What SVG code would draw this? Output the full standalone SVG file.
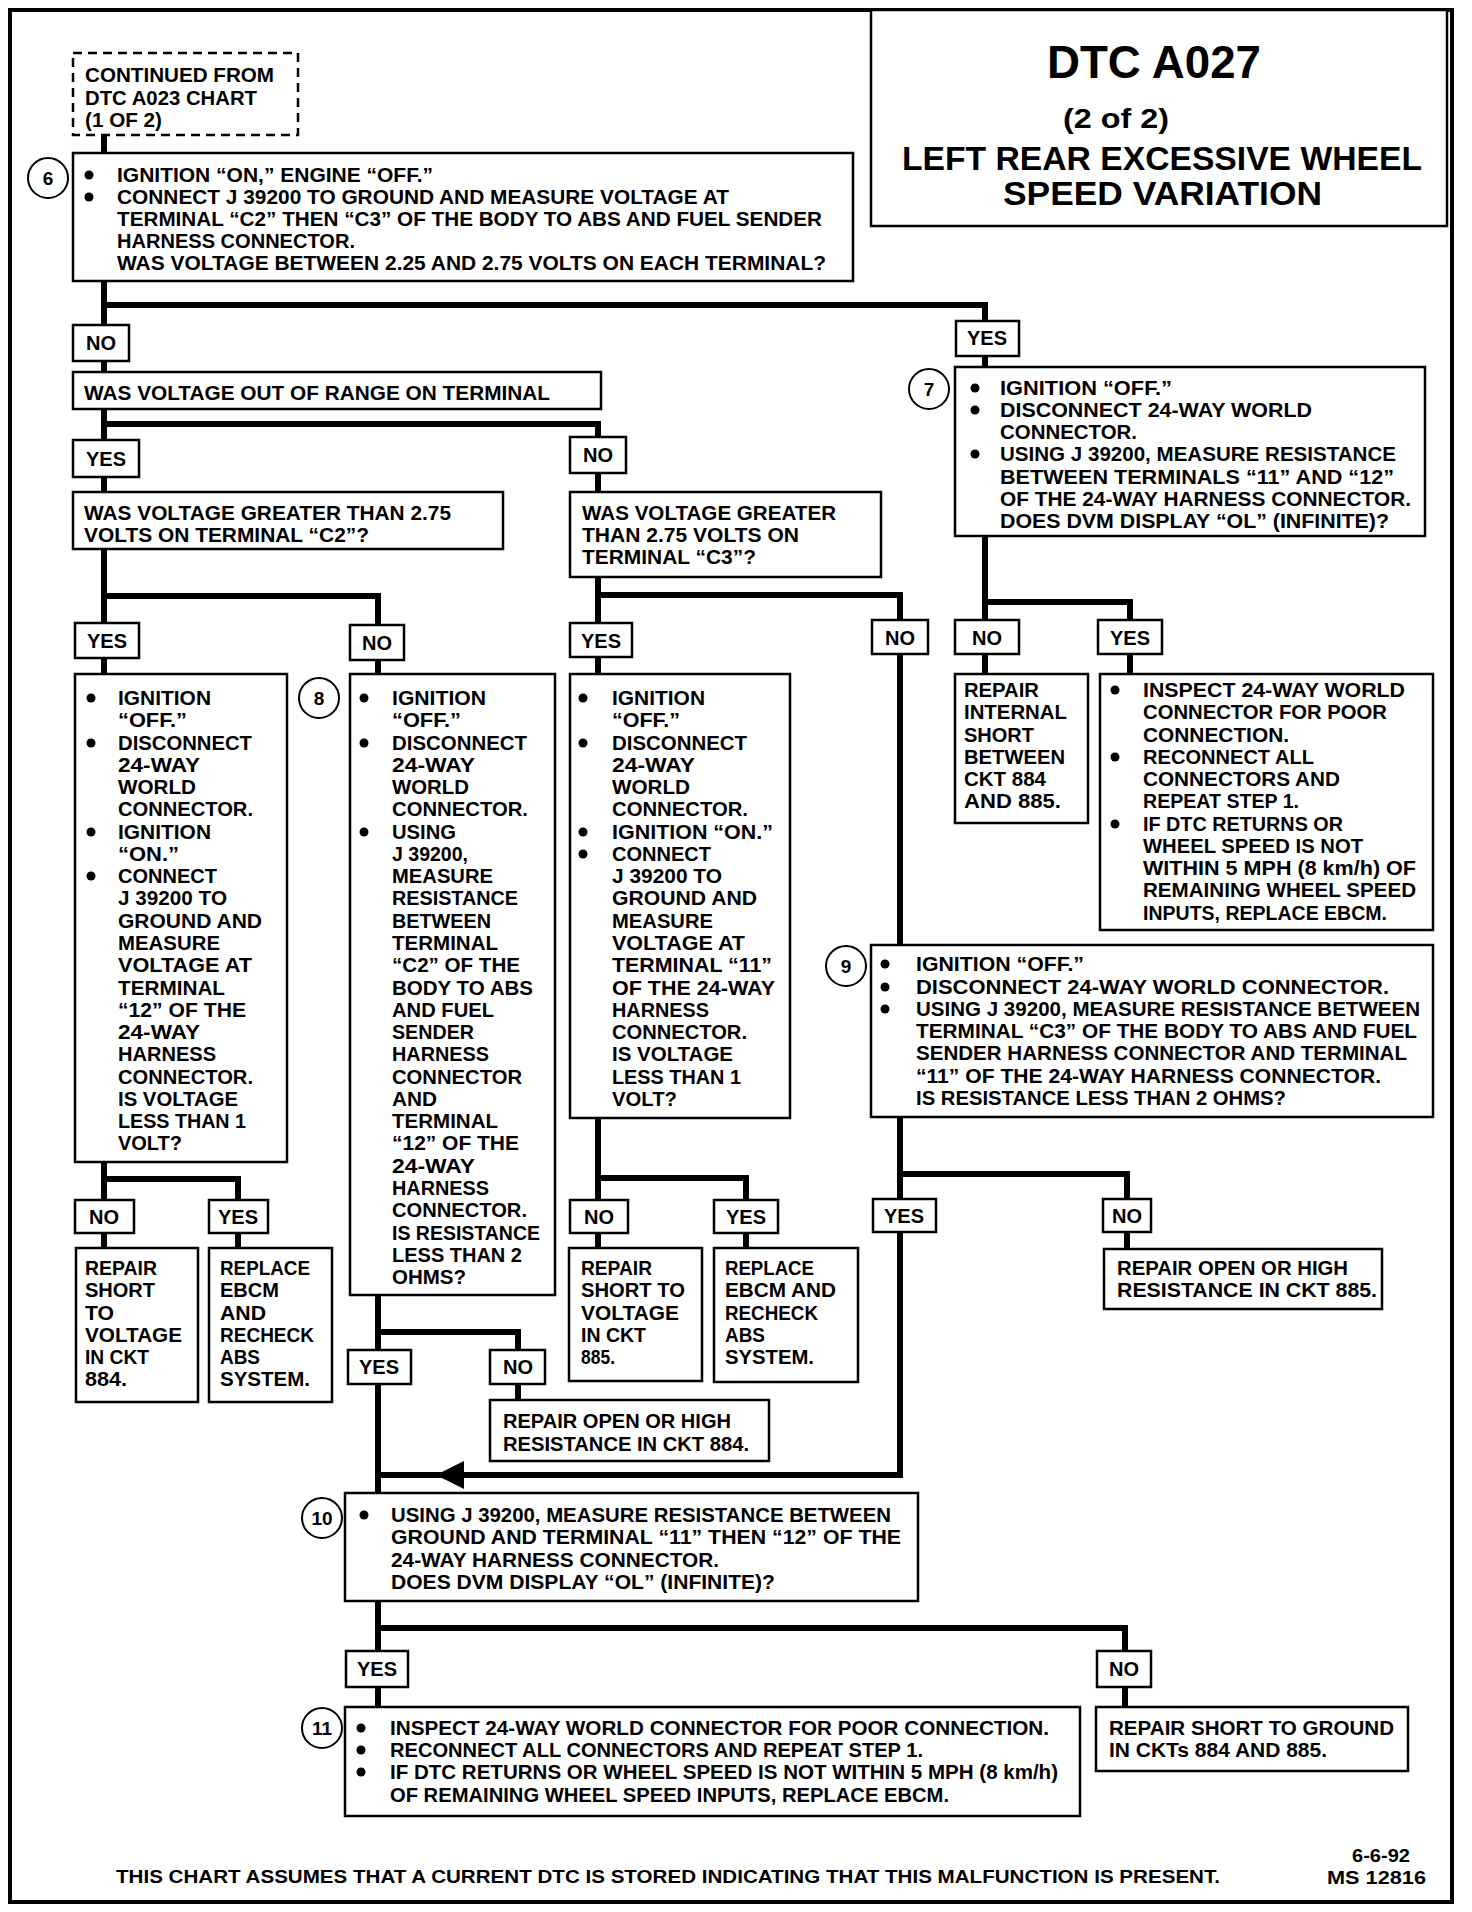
<svg xmlns="http://www.w3.org/2000/svg" width="1472" height="1912" viewBox="0 0 1472 1912">
<style>
.bg{fill:#fff}
.frame{fill:none;stroke:#000;stroke-width:4}
.box{fill:#fff;stroke:#000;stroke-width:2.5}
.dash{fill:#fff;stroke:#000;stroke-width:2.5;stroke-dasharray:9 6}
.conn{fill:none;stroke:#000;stroke-width:6;stroke-linejoin:miter;stroke-linecap:butt}
.t{font-family:"Liberation Sans",Arial,sans-serif;font-weight:bold;font-size:20px;fill:#000}
.lb{font-family:"Liberation Sans",Arial,sans-serif;font-weight:bold;font-size:20px;fill:#000;text-anchor:middle}
.num{font-family:"Liberation Sans",Arial,sans-serif;font-weight:bold;font-size:19px;fill:#000;text-anchor:middle}
.ring{fill:#fff;stroke:#000;stroke-width:2}
.dot{fill:#000}
</style>
<rect class="bg" x="0" y="0" width="1472" height="1912"/>
<rect class="frame" x="10" y="10" width="1442" height="1892"/>

<g id="title">
<rect class="box" x="871" y="10" width="576" height="216"/>
<text class="t" x="1047" y="78" style="font-size:46px" textLength="214" lengthAdjust="spacingAndGlyphs">DTC A027</text>
<text class="t" x="1063" y="128" style="font-size:27px" textLength="106" lengthAdjust="spacingAndGlyphs">(2 of 2)</text>
<text class="t" x="902" y="170" style="font-size:34px" textLength="520" lengthAdjust="spacingAndGlyphs">LEFT REAR EXCESSIVE WHEEL</text>
<text class="t" x="1003" y="205" style="font-size:34px" textLength="319" lengthAdjust="spacingAndGlyphs">SPEED VARIATION</text>
</g>

<g id="connectors">
<path class="conn" d="M104,134 V153"/>
<path class="conn" d="M104,281 V325 M104,305 H985 V321"/>
<path class="conn" d="M104,361 V372"/>
<path class="conn" d="M104,409 V440 M104,424 H598 V437"/>
<path class="conn" d="M104,477 V492"/>
<path class="conn" d="M598,473 V492"/>
<path class="conn" d="M104,549 V623 M104,596 H378 V625"/>
<path class="conn" d="M104,658 V674"/>
<path class="conn" d="M378,660 V674"/>
<path class="conn" d="M598,577 V623 M598,595 H900 V620"/>
<path class="conn" d="M598,657 V674"/>
<path class="conn" d="M900,654 V945"/>
<path class="conn" d="M985,356 V367"/>
<path class="conn" d="M985,536 V620 M985,602 H1130 V620"/>
<path class="conn" d="M985,654 V674"/>
<path class="conn" d="M1130,654 V674"/>
<path class="conn" d="M104,1162 V1200 M104,1179 H238 V1200"/>
<path class="conn" d="M104,1233 V1248"/>
<path class="conn" d="M238,1233 V1248"/>
<path class="conn" d="M598,1118 V1200 M598,1178 H746 V1200"/>
<path class="conn" d="M598,1233 V1248"/>
<path class="conn" d="M746,1233 V1248"/>
<path class="conn" d="M378,1295 V1350 M378,1332 H518 V1350"/>
<path class="conn" d="M518,1384 V1400"/>
<path class="conn" d="M378,1384 V1493"/>
<path class="conn" d="M900,1117 V1199 M900,1174 H1127 V1199"/>
<path class="conn" d="M1127,1232 V1249"/>
<path class="conn" d="M900,1232 V1475 H378"/>
<polygon points="436,1475 464,1461 464,1489" fill="#000"/>
<path class="conn" d="M378,1601 V1651 M378,1628 H1125 V1651"/>
<path class="conn" d="M378,1687 V1707"/>
<path class="conn" d="M1125,1687 V1707"/>
</g>

<g id="start">
<rect class="dash" x="73" y="53" width="225" height="82"/>
<text class="t" x="85" y="82" textLength="189" lengthAdjust="spacingAndGlyphs">CONTINUED FROM</text>
<text class="t" x="85" y="105" textLength="172" lengthAdjust="spacingAndGlyphs">DTC A023 CHART</text>
<text class="t" x="85" y="127" textLength="77" lengthAdjust="spacingAndGlyphs">(1 OF 2)</text>
</g>

<g id="step6">
<circle class="ring" cx="48" cy="178" r="20"/><text class="num" x="48" y="185">6</text>
<rect class="box" x="73" y="153" width="780" height="128"/>
<circle class="dot" cx="89" cy="175" r="4.5"/><circle class="dot" cx="89" cy="197" r="4.5"/>
<text class="t" x="117" y="182" textLength="316" lengthAdjust="spacingAndGlyphs">IGNITION “ON,” ENGINE “OFF.”</text>
<text class="t" x="117" y="204" textLength="612" lengthAdjust="spacingAndGlyphs">CONNECT J 39200 TO GROUND AND MEASURE VOLTAGE AT</text>
<text class="t" x="117" y="226" textLength="705" lengthAdjust="spacingAndGlyphs">TERMINAL “C2” THEN “C3” OF THE BODY TO ABS AND FUEL SENDER</text>
<text class="t" x="117" y="248" textLength="238" lengthAdjust="spacingAndGlyphs">HARNESS CONNECTOR.</text>
<text class="t" x="117" y="270" textLength="709" lengthAdjust="spacingAndGlyphs">WAS VOLTAGE BETWEEN 2.25 AND 2.75 VOLTS ON EACH TERMINAL?</text>
</g>

<g id="no6"><rect class="box" x="73" y="325" width="56" height="36"/><text class="lb" x="101" y="350">NO</text></g>
<g id="yes6"><rect class="box" x="956" y="321" width="63" height="35"/><text class="lb" x="987" y="345">YES</text></g>

<g id="q-out-of-range">
<rect class="box" x="73" y="372" width="528" height="37"/>
<text class="t" x="84" y="400" textLength="466" lengthAdjust="spacingAndGlyphs">WAS VOLTAGE OUT OF RANGE ON TERMINAL</text>
</g>

<g id="yes-range"><rect class="box" x="73" y="440" width="66" height="37"/><text class="lb" x="106" y="466">YES</text></g>
<g id="no-range"><rect class="box" x="570" y="437" width="56" height="36"/><text class="lb" x="598" y="462">NO</text></g>

<g id="q-c2">
<rect class="box" x="73" y="492" width="430" height="57"/>
<text class="t" x="84" y="520" textLength="367" lengthAdjust="spacingAndGlyphs">WAS VOLTAGE GREATER THAN 2.75</text>
<text class="t" x="84" y="542" textLength="285" lengthAdjust="spacingAndGlyphs">VOLTS ON TERMINAL “C2”?</text>
</g>

<g id="q-c3">
<rect class="box" x="570" y="492" width="311" height="85"/>
<text class="t" x="582" y="520" textLength="254" lengthAdjust="spacingAndGlyphs">WAS VOLTAGE GREATER</text>
<text class="t" x="582" y="542" textLength="217" lengthAdjust="spacingAndGlyphs">THAN 2.75 VOLTS ON</text>
<text class="t" x="582" y="564" textLength="174" lengthAdjust="spacingAndGlyphs">TERMINAL “C3”?</text>
</g>

<g id="step7">
<circle class="ring" cx="929" cy="389" r="20"/><text class="num" x="929" y="396">7</text>
<rect class="box" x="955" y="367" width="470" height="169"/>
<circle class="dot" cx="975" cy="388" r="4.5"/><circle class="dot" cx="975" cy="410" r="4.5"/><circle class="dot" cx="975" cy="454" r="4.5"/>
<text class="t" x="1000" y="395" textLength="172" lengthAdjust="spacingAndGlyphs">IGNITION “OFF.”</text>
<text class="t" x="1000" y="417" textLength="312" lengthAdjust="spacingAndGlyphs">DISCONNECT 24-WAY WORLD</text>
<text class="t" x="1000" y="439" textLength="137" lengthAdjust="spacingAndGlyphs">CONNECTOR.</text>
<text class="t" x="1000" y="461" textLength="396" lengthAdjust="spacingAndGlyphs">USING J 39200, MEASURE RESISTANCE</text>
<text class="t" x="1000" y="484" textLength="394" lengthAdjust="spacingAndGlyphs">BETWEEN TERMINALS “11” AND “12”</text>
<text class="t" x="1000" y="506" textLength="411" lengthAdjust="spacingAndGlyphs">OF THE 24-WAY HARNESS CONNECTOR.</text>
<text class="t" x="1000" y="528" textLength="389" lengthAdjust="spacingAndGlyphs">DOES DVM DISPLAY “OL” (INFINITE)?</text>
</g>

<g id="yes-c2"><rect class="box" x="75" y="623" width="64" height="35"/><text class="lb" x="107" y="648">YES</text></g>
<g id="no-c2"><rect class="box" x="350" y="625" width="54" height="35"/><text class="lb" x="377" y="650">NO</text></g>
<g id="yes-c3"><rect class="box" x="570" y="623" width="62" height="34"/><text class="lb" x="601" y="648">YES</text></g>
<g id="no-c3"><rect class="box" x="872" y="620" width="56" height="34"/><text class="lb" x="900" y="645">NO</text></g>
<g id="no7"><rect class="box" x="955" y="620" width="64" height="34"/><text class="lb" x="987" y="645">NO</text></g>
<g id="yes7"><rect class="box" x="1098" y="620" width="64" height="34"/><text class="lb" x="1130" y="645">YES</text></g>

<g id="check-c2-voltage">
<rect class="box" x="75" y="674" width="212" height="488"/>
<circle class="dot" cx="91" cy="698" r="4.5"/><circle class="dot" cx="91" cy="743" r="4.5"/><circle class="dot" cx="91" cy="832" r="4.5"/><circle class="dot" cx="91" cy="876" r="4.5"/>
<text class="t" x="118" y="705" textLength="93" lengthAdjust="spacingAndGlyphs">IGNITION</text>
<text class="t" x="118" y="727" textLength="69" lengthAdjust="spacingAndGlyphs">“OFF.”</text>
<text class="t" x="118" y="750" textLength="134" lengthAdjust="spacingAndGlyphs">DISCONNECT</text>
<text class="t" x="118" y="772" textLength="82" lengthAdjust="spacingAndGlyphs">24-WAY</text>
<text class="t" x="118" y="794" textLength="78" lengthAdjust="spacingAndGlyphs">WORLD</text>
<text class="t" x="118" y="816" textLength="135" lengthAdjust="spacingAndGlyphs">CONNECTOR.</text>
<text class="t" x="118" y="839" textLength="93" lengthAdjust="spacingAndGlyphs">IGNITION</text>
<text class="t" x="118" y="861" textLength="61" lengthAdjust="spacingAndGlyphs">“ON.”</text>
<text class="t" x="118" y="883" textLength="99" lengthAdjust="spacingAndGlyphs">CONNECT</text>
<text class="t" x="118" y="905" textLength="109" lengthAdjust="spacingAndGlyphs">J 39200 TO</text>
<text class="t" x="118" y="928" textLength="144" lengthAdjust="spacingAndGlyphs">GROUND AND</text>
<text class="t" x="118" y="950" textLength="102" lengthAdjust="spacingAndGlyphs">MEASURE</text>
<text class="t" x="118" y="972" textLength="134" lengthAdjust="spacingAndGlyphs">VOLTAGE AT</text>
<text class="t" x="118" y="995" textLength="107" lengthAdjust="spacingAndGlyphs">TERMINAL</text>
<text class="t" x="118" y="1017" textLength="128" lengthAdjust="spacingAndGlyphs">“12” OF THE</text>
<text class="t" x="118" y="1039" textLength="82" lengthAdjust="spacingAndGlyphs">24-WAY</text>
<text class="t" x="118" y="1061" textLength="98" lengthAdjust="spacingAndGlyphs">HARNESS</text>
<text class="t" x="118" y="1084" textLength="135" lengthAdjust="spacingAndGlyphs">CONNECTOR.</text>
<text class="t" x="118" y="1106" textLength="120" lengthAdjust="spacingAndGlyphs">IS VOLTAGE</text>
<text class="t" x="118" y="1128" textLength="128" lengthAdjust="spacingAndGlyphs">LESS THAN 1</text>
<text class="t" x="118" y="1150" textLength="64" lengthAdjust="spacingAndGlyphs">VOLT?</text>
</g>

<g id="step8">
<circle class="ring" cx="319" cy="698" r="20"/><text class="num" x="319" y="705">8</text>
<rect class="box" x="350" y="674" width="205" height="621"/>
<circle class="dot" cx="364" cy="698" r="4.5"/><circle class="dot" cx="364" cy="743" r="4.5"/><circle class="dot" cx="364" cy="832" r="4.5"/>
<text class="t" x="392" y="705" textLength="94" lengthAdjust="spacingAndGlyphs">IGNITION</text>
<text class="t" x="392" y="727" textLength="69" lengthAdjust="spacingAndGlyphs">“OFF.”</text>
<text class="t" x="392" y="750" textLength="135" lengthAdjust="spacingAndGlyphs">DISCONNECT</text>
<text class="t" x="392" y="772" textLength="83" lengthAdjust="spacingAndGlyphs">24-WAY</text>
<text class="t" x="392" y="794" textLength="77" lengthAdjust="spacingAndGlyphs">WORLD</text>
<text class="t" x="392" y="816" textLength="136" lengthAdjust="spacingAndGlyphs">CONNECTOR.</text>
<text class="t" x="392" y="839" textLength="64" lengthAdjust="spacingAndGlyphs">USING</text>
<text class="t" x="392" y="861" textLength="76" lengthAdjust="spacingAndGlyphs">J 39200,</text>
<text class="t" x="392" y="883" textLength="101" lengthAdjust="spacingAndGlyphs">MEASURE</text>
<text class="t" x="392" y="905" textLength="126" lengthAdjust="spacingAndGlyphs">RESISTANCE</text>
<text class="t" x="392" y="928" textLength="99" lengthAdjust="spacingAndGlyphs">BETWEEN</text>
<text class="t" x="392" y="950" textLength="106" lengthAdjust="spacingAndGlyphs">TERMINAL</text>
<text class="t" x="392" y="972" textLength="128" lengthAdjust="spacingAndGlyphs">“C2” OF THE</text>
<text class="t" x="392" y="995" textLength="141" lengthAdjust="spacingAndGlyphs">BODY TO ABS</text>
<text class="t" x="392" y="1017" textLength="102" lengthAdjust="spacingAndGlyphs">AND FUEL</text>
<text class="t" x="392" y="1039" textLength="82" lengthAdjust="spacingAndGlyphs">SENDER</text>
<text class="t" x="392" y="1061" textLength="97" lengthAdjust="spacingAndGlyphs">HARNESS</text>
<text class="t" x="392" y="1084" textLength="130" lengthAdjust="spacingAndGlyphs">CONNECTOR</text>
<text class="t" x="392" y="1106" textLength="45" lengthAdjust="spacingAndGlyphs">AND</text>
<text class="t" x="392" y="1128" textLength="106" lengthAdjust="spacingAndGlyphs">TERMINAL</text>
<text class="t" x="392" y="1150" textLength="127" lengthAdjust="spacingAndGlyphs">“12” OF THE</text>
<text class="t" x="392" y="1173" textLength="83" lengthAdjust="spacingAndGlyphs">24-WAY</text>
<text class="t" x="392" y="1195" textLength="97" lengthAdjust="spacingAndGlyphs">HARNESS</text>
<text class="t" x="392" y="1217" textLength="135" lengthAdjust="spacingAndGlyphs">CONNECTOR.</text>
<text class="t" x="392" y="1240" textLength="148" lengthAdjust="spacingAndGlyphs">IS RESISTANCE</text>
<text class="t" x="392" y="1262" textLength="130" lengthAdjust="spacingAndGlyphs">LESS THAN 2</text>
<text class="t" x="392" y="1284" textLength="74" lengthAdjust="spacingAndGlyphs">OHMS?</text>
</g>

<g id="check-c3-voltage">
<rect class="box" x="570" y="674" width="220" height="444"/>
<circle class="dot" cx="583" cy="698" r="4.5"/><circle class="dot" cx="583" cy="743" r="4.5"/><circle class="dot" cx="583" cy="832" r="4.5"/><circle class="dot" cx="583" cy="854" r="4.5"/>
<text class="t" x="612" y="705" textLength="93" lengthAdjust="spacingAndGlyphs">IGNITION</text>
<text class="t" x="612" y="727" textLength="68" lengthAdjust="spacingAndGlyphs">“OFF.”</text>
<text class="t" x="612" y="750" textLength="135" lengthAdjust="spacingAndGlyphs">DISCONNECT</text>
<text class="t" x="612" y="772" textLength="83" lengthAdjust="spacingAndGlyphs">24-WAY</text>
<text class="t" x="612" y="794" textLength="78" lengthAdjust="spacingAndGlyphs">WORLD</text>
<text class="t" x="612" y="816" textLength="136" lengthAdjust="spacingAndGlyphs">CONNECTOR.</text>
<text class="t" x="612" y="839" textLength="161" lengthAdjust="spacingAndGlyphs">IGNITION “ON.”</text>
<text class="t" x="612" y="861" textLength="99" lengthAdjust="spacingAndGlyphs">CONNECT</text>
<text class="t" x="612" y="883" textLength="110" lengthAdjust="spacingAndGlyphs">J 39200 TO</text>
<text class="t" x="612" y="905" textLength="145" lengthAdjust="spacingAndGlyphs">GROUND AND</text>
<text class="t" x="612" y="928" textLength="101" lengthAdjust="spacingAndGlyphs">MEASURE</text>
<text class="t" x="612" y="950" textLength="133" lengthAdjust="spacingAndGlyphs">VOLTAGE AT</text>
<text class="t" x="612" y="972" textLength="160" lengthAdjust="spacingAndGlyphs">TERMINAL “11”</text>
<text class="t" x="612" y="995" textLength="163" lengthAdjust="spacingAndGlyphs">OF THE 24-WAY</text>
<text class="t" x="612" y="1017" textLength="97" lengthAdjust="spacingAndGlyphs">HARNESS</text>
<text class="t" x="612" y="1039" textLength="135" lengthAdjust="spacingAndGlyphs">CONNECTOR.</text>
<text class="t" x="612" y="1061" textLength="121" lengthAdjust="spacingAndGlyphs">IS VOLTAGE</text>
<text class="t" x="612" y="1084" textLength="129" lengthAdjust="spacingAndGlyphs">LESS THAN 1</text>
<text class="t" x="612" y="1106" textLength="65" lengthAdjust="spacingAndGlyphs">VOLT?</text>
</g>

<g id="repair-internal-short">
<rect class="box" x="955" y="674" width="133" height="149"/>
<text class="t" x="964" y="697" textLength="75" lengthAdjust="spacingAndGlyphs">REPAIR</text>
<text class="t" x="964" y="719" textLength="103" lengthAdjust="spacingAndGlyphs">INTERNAL</text>
<text class="t" x="964" y="742" textLength="70" lengthAdjust="spacingAndGlyphs">SHORT</text>
<text class="t" x="964" y="764" textLength="101" lengthAdjust="spacingAndGlyphs">BETWEEN</text>
<text class="t" x="964" y="786" textLength="82" lengthAdjust="spacingAndGlyphs">CKT 884</text>
<text class="t" x="964" y="808" textLength="97" lengthAdjust="spacingAndGlyphs">AND 885.</text>
</g>

<g id="inspect-world-7">
<rect class="box" x="1100" y="674" width="333" height="256"/>
<circle class="dot" cx="1115" cy="690" r="4.5"/><circle class="dot" cx="1115" cy="757" r="4.5"/><circle class="dot" cx="1115" cy="824" r="4.5"/>
<text class="t" x="1143" y="697" textLength="262" lengthAdjust="spacingAndGlyphs">INSPECT 24-WAY WORLD</text>
<text class="t" x="1143" y="719" textLength="244" lengthAdjust="spacingAndGlyphs">CONNECTOR FOR POOR</text>
<text class="t" x="1143" y="742" textLength="146" lengthAdjust="spacingAndGlyphs">CONNECTION.</text>
<text class="t" x="1143" y="764" textLength="171" lengthAdjust="spacingAndGlyphs">RECONNECT ALL</text>
<text class="t" x="1143" y="786" textLength="197" lengthAdjust="spacingAndGlyphs">CONNECTORS AND</text>
<text class="t" x="1143" y="808" textLength="156" lengthAdjust="spacingAndGlyphs">REPEAT STEP 1.</text>
<text class="t" x="1143" y="831" textLength="200" lengthAdjust="spacingAndGlyphs">IF DTC RETURNS OR</text>
<text class="t" x="1143" y="853" textLength="220" lengthAdjust="spacingAndGlyphs">WHEEL SPEED IS NOT</text>
<text class="t" x="1143" y="875" textLength="273" lengthAdjust="spacingAndGlyphs">WITHIN 5 MPH (8 km/h) OF</text>
<text class="t" x="1143" y="897" textLength="273" lengthAdjust="spacingAndGlyphs">REMAINING WHEEL SPEED</text>
<text class="t" x="1143" y="920" textLength="244" lengthAdjust="spacingAndGlyphs">INPUTS, REPLACE EBCM.</text>
</g>

<g id="step9">
<circle class="ring" cx="846" cy="966" r="20"/><text class="num" x="846" y="973">9</text>
<rect class="box" x="871" y="945" width="562" height="172"/>
<circle class="dot" cx="885" cy="964" r="4.5"/><circle class="dot" cx="885" cy="987" r="4.5"/><circle class="dot" cx="885" cy="1009" r="4.5"/>
<text class="t" x="916" y="971" textLength="168" lengthAdjust="spacingAndGlyphs">IGNITION “OFF.”</text>
<text class="t" x="916" y="994" textLength="473" lengthAdjust="spacingAndGlyphs">DISCONNECT 24-WAY WORLD CONNECTOR.</text>
<text class="t" x="916" y="1016" textLength="504" lengthAdjust="spacingAndGlyphs">USING J 39200, MEASURE RESISTANCE BETWEEN</text>
<text class="t" x="916" y="1038" textLength="501" lengthAdjust="spacingAndGlyphs">TERMINAL “C3” OF THE BODY TO ABS AND FUEL</text>
<text class="t" x="916" y="1060" textLength="491" lengthAdjust="spacingAndGlyphs">SENDER HARNESS CONNECTOR AND TERMINAL</text>
<text class="t" x="916" y="1083" textLength="465" lengthAdjust="spacingAndGlyphs">“11” OF THE 24-WAY HARNESS CONNECTOR.</text>
<text class="t" x="916" y="1105" textLength="370" lengthAdjust="spacingAndGlyphs">IS RESISTANCE LESS THAN 2 OHMS?</text>
</g>

<g id="no-c2v"><rect class="box" x="75" y="1200" width="59" height="33"/><text class="lb" x="104" y="1224">NO</text></g>
<g id="yes-c2v"><rect class="box" x="209" y="1200" width="59" height="33"/><text class="lb" x="238" y="1224">YES</text></g>
<g id="no-c3v"><rect class="box" x="570" y="1200" width="58" height="33"/><text class="lb" x="599" y="1224">NO</text></g>
<g id="yes-c3v"><rect class="box" x="714" y="1200" width="64" height="33"/><text class="lb" x="746" y="1224">YES</text></g>
<g id="yes9"><rect class="box" x="873" y="1199" width="63" height="33"/><text class="lb" x="904" y="1223">YES</text></g>
<g id="no9"><rect class="box" x="1103" y="1199" width="48" height="33"/><text class="lb" x="1127" y="1223">NO</text></g>

<g id="repair-short-884">
<rect class="box" x="76" y="1248" width="122" height="154"/>
<text class="t" x="85" y="1275" textLength="72" lengthAdjust="spacingAndGlyphs">REPAIR</text>
<text class="t" x="85" y="1297" textLength="70" lengthAdjust="spacingAndGlyphs">SHORT</text>
<text class="t" x="85" y="1320" textLength="29" lengthAdjust="spacingAndGlyphs">TO</text>
<text class="t" x="85" y="1342" textLength="97" lengthAdjust="spacingAndGlyphs">VOLTAGE</text>
<text class="t" x="85" y="1364" textLength="64" lengthAdjust="spacingAndGlyphs">IN CKT</text>
<text class="t" x="85" y="1386" textLength="42" lengthAdjust="spacingAndGlyphs">884.</text>
</g>

<g id="replace-ebcm-1">
<rect class="box" x="209" y="1248" width="123" height="154"/>
<text class="t" x="220" y="1275" textLength="90" lengthAdjust="spacingAndGlyphs">REPLACE</text>
<text class="t" x="220" y="1297" textLength="59" lengthAdjust="spacingAndGlyphs">EBCM</text>
<text class="t" x="220" y="1320" textLength="46" lengthAdjust="spacingAndGlyphs">AND</text>
<text class="t" x="220" y="1342" textLength="94" lengthAdjust="spacingAndGlyphs">RECHECK</text>
<text class="t" x="220" y="1364" textLength="40" lengthAdjust="spacingAndGlyphs">ABS</text>
<text class="t" x="220" y="1386" textLength="90" lengthAdjust="spacingAndGlyphs">SYSTEM.</text>
</g>

<g id="repair-short-885">
<rect class="box" x="569" y="1248" width="133" height="133"/>
<text class="t" x="581" y="1275" textLength="71" lengthAdjust="spacingAndGlyphs">REPAIR</text>
<text class="t" x="581" y="1297" textLength="104" lengthAdjust="spacingAndGlyphs">SHORT TO</text>
<text class="t" x="581" y="1320" textLength="98" lengthAdjust="spacingAndGlyphs">VOLTAGE</text>
<text class="t" x="581" y="1342" textLength="65" lengthAdjust="spacingAndGlyphs">IN CKT</text>
<text class="t" x="581" y="1364" textLength="34" lengthAdjust="spacingAndGlyphs">885.</text>
</g>

<g id="replace-ebcm-2">
<rect class="box" x="714" y="1248" width="144" height="134"/>
<text class="t" x="725" y="1275" textLength="89" lengthAdjust="spacingAndGlyphs">REPLACE</text>
<text class="t" x="725" y="1297" textLength="111" lengthAdjust="spacingAndGlyphs">EBCM AND</text>
<text class="t" x="725" y="1320" textLength="93" lengthAdjust="spacingAndGlyphs">RECHECK</text>
<text class="t" x="725" y="1342" textLength="40" lengthAdjust="spacingAndGlyphs">ABS</text>
<text class="t" x="725" y="1364" textLength="89" lengthAdjust="spacingAndGlyphs">SYSTEM.</text>
</g>

<g id="repair-open-885">
<rect class="box" x="1104" y="1249" width="278" height="60"/>
<text class="t" x="1117" y="1275" textLength="231" lengthAdjust="spacingAndGlyphs">REPAIR OPEN OR HIGH</text>
<text class="t" x="1117" y="1297" textLength="260" lengthAdjust="spacingAndGlyphs">RESISTANCE IN CKT 885.</text>
</g>

<g id="yes8"><rect class="box" x="348" y="1350" width="63" height="34"/><text class="lb" x="379" y="1374">YES</text></g>
<g id="no8"><rect class="box" x="490" y="1350" width="55" height="34"/><text class="lb" x="518" y="1374">NO</text></g>

<g id="repair-open-884">
<rect class="box" x="490" y="1400" width="279" height="61"/>
<text class="t" x="503" y="1428" textLength="228" lengthAdjust="spacingAndGlyphs">REPAIR OPEN OR HIGH</text>
<text class="t" x="503" y="1451" textLength="246" lengthAdjust="spacingAndGlyphs">RESISTANCE IN CKT 884.</text>
</g>

<g id="step10">
<circle class="ring" cx="322" cy="1518" r="20"/><text class="num" x="322" y="1525">10</text>
<rect class="box" x="345" y="1493" width="573" height="108"/>
<circle class="dot" cx="364" cy="1515" r="4.5"/>
<text class="t" x="391" y="1522" textLength="500" lengthAdjust="spacingAndGlyphs">USING J 39200, MEASURE RESISTANCE BETWEEN</text>
<text class="t" x="391" y="1544" textLength="510" lengthAdjust="spacingAndGlyphs">GROUND AND TERMINAL “11” THEN “12” OF THE</text>
<text class="t" x="391" y="1567" textLength="328" lengthAdjust="spacingAndGlyphs">24-WAY HARNESS CONNECTOR.</text>
<text class="t" x="391" y="1589" textLength="384" lengthAdjust="spacingAndGlyphs">DOES DVM DISPLAY “OL” (INFINITE)?</text>
</g>

<g id="yes10"><rect class="box" x="346" y="1651" width="62" height="36"/><text class="lb" x="377" y="1676">YES</text></g>
<g id="no10"><rect class="box" x="1097" y="1651" width="54" height="36"/><text class="lb" x="1124" y="1676">NO</text></g>

<g id="step11">
<circle class="ring" cx="322" cy="1728" r="20"/><text class="num" x="322" y="1735">11</text>
<rect class="box" x="345" y="1707" width="735" height="109"/>
<circle class="dot" cx="361" cy="1728" r="4.5"/><circle class="dot" cx="361" cy="1750" r="4.5"/><circle class="dot" cx="361" cy="1772" r="4.5"/>
<text class="t" x="390" y="1735" textLength="659" lengthAdjust="spacingAndGlyphs">INSPECT 24-WAY WORLD CONNECTOR FOR POOR CONNECTION.</text>
<text class="t" x="390" y="1757" textLength="533" lengthAdjust="spacingAndGlyphs">RECONNECT ALL CONNECTORS AND REPEAT STEP 1.</text>
<text class="t" x="390" y="1779" textLength="668" lengthAdjust="spacingAndGlyphs">IF DTC RETURNS OR WHEEL SPEED IS NOT WITHIN 5 MPH (8 km/h)</text>
<text class="t" x="390" y="1802" textLength="559" lengthAdjust="spacingAndGlyphs">OF REMAINING WHEEL SPEED INPUTS, REPLACE EBCM.</text>
</g>

<g id="repair-short-ground">
<rect class="box" x="1096" y="1707" width="312" height="64"/>
<text class="t" x="1109" y="1735" textLength="285" lengthAdjust="spacingAndGlyphs">REPAIR SHORT TO GROUND</text>
<text class="t" x="1109" y="1757" textLength="218" lengthAdjust="spacingAndGlyphs">IN CKTs 884 AND 885.</text>
</g>

<g id="footer">
<text class="t" x="116" y="1883" style="font-size:18.5px" textLength="1104" lengthAdjust="spacingAndGlyphs">THIS CHART ASSUMES THAT A CURRENT DTC IS STORED INDICATING THAT THIS MALFUNCTION IS PRESENT.</text>
<text class="t" x="1352" y="1862" style="font-size:18.5px" textLength="58" lengthAdjust="spacingAndGlyphs">6-6-92</text>
<text class="t" x="1327" y="1884" style="font-size:18.5px" textLength="99" lengthAdjust="spacingAndGlyphs">MS 12816</text>
</g>
</svg>
